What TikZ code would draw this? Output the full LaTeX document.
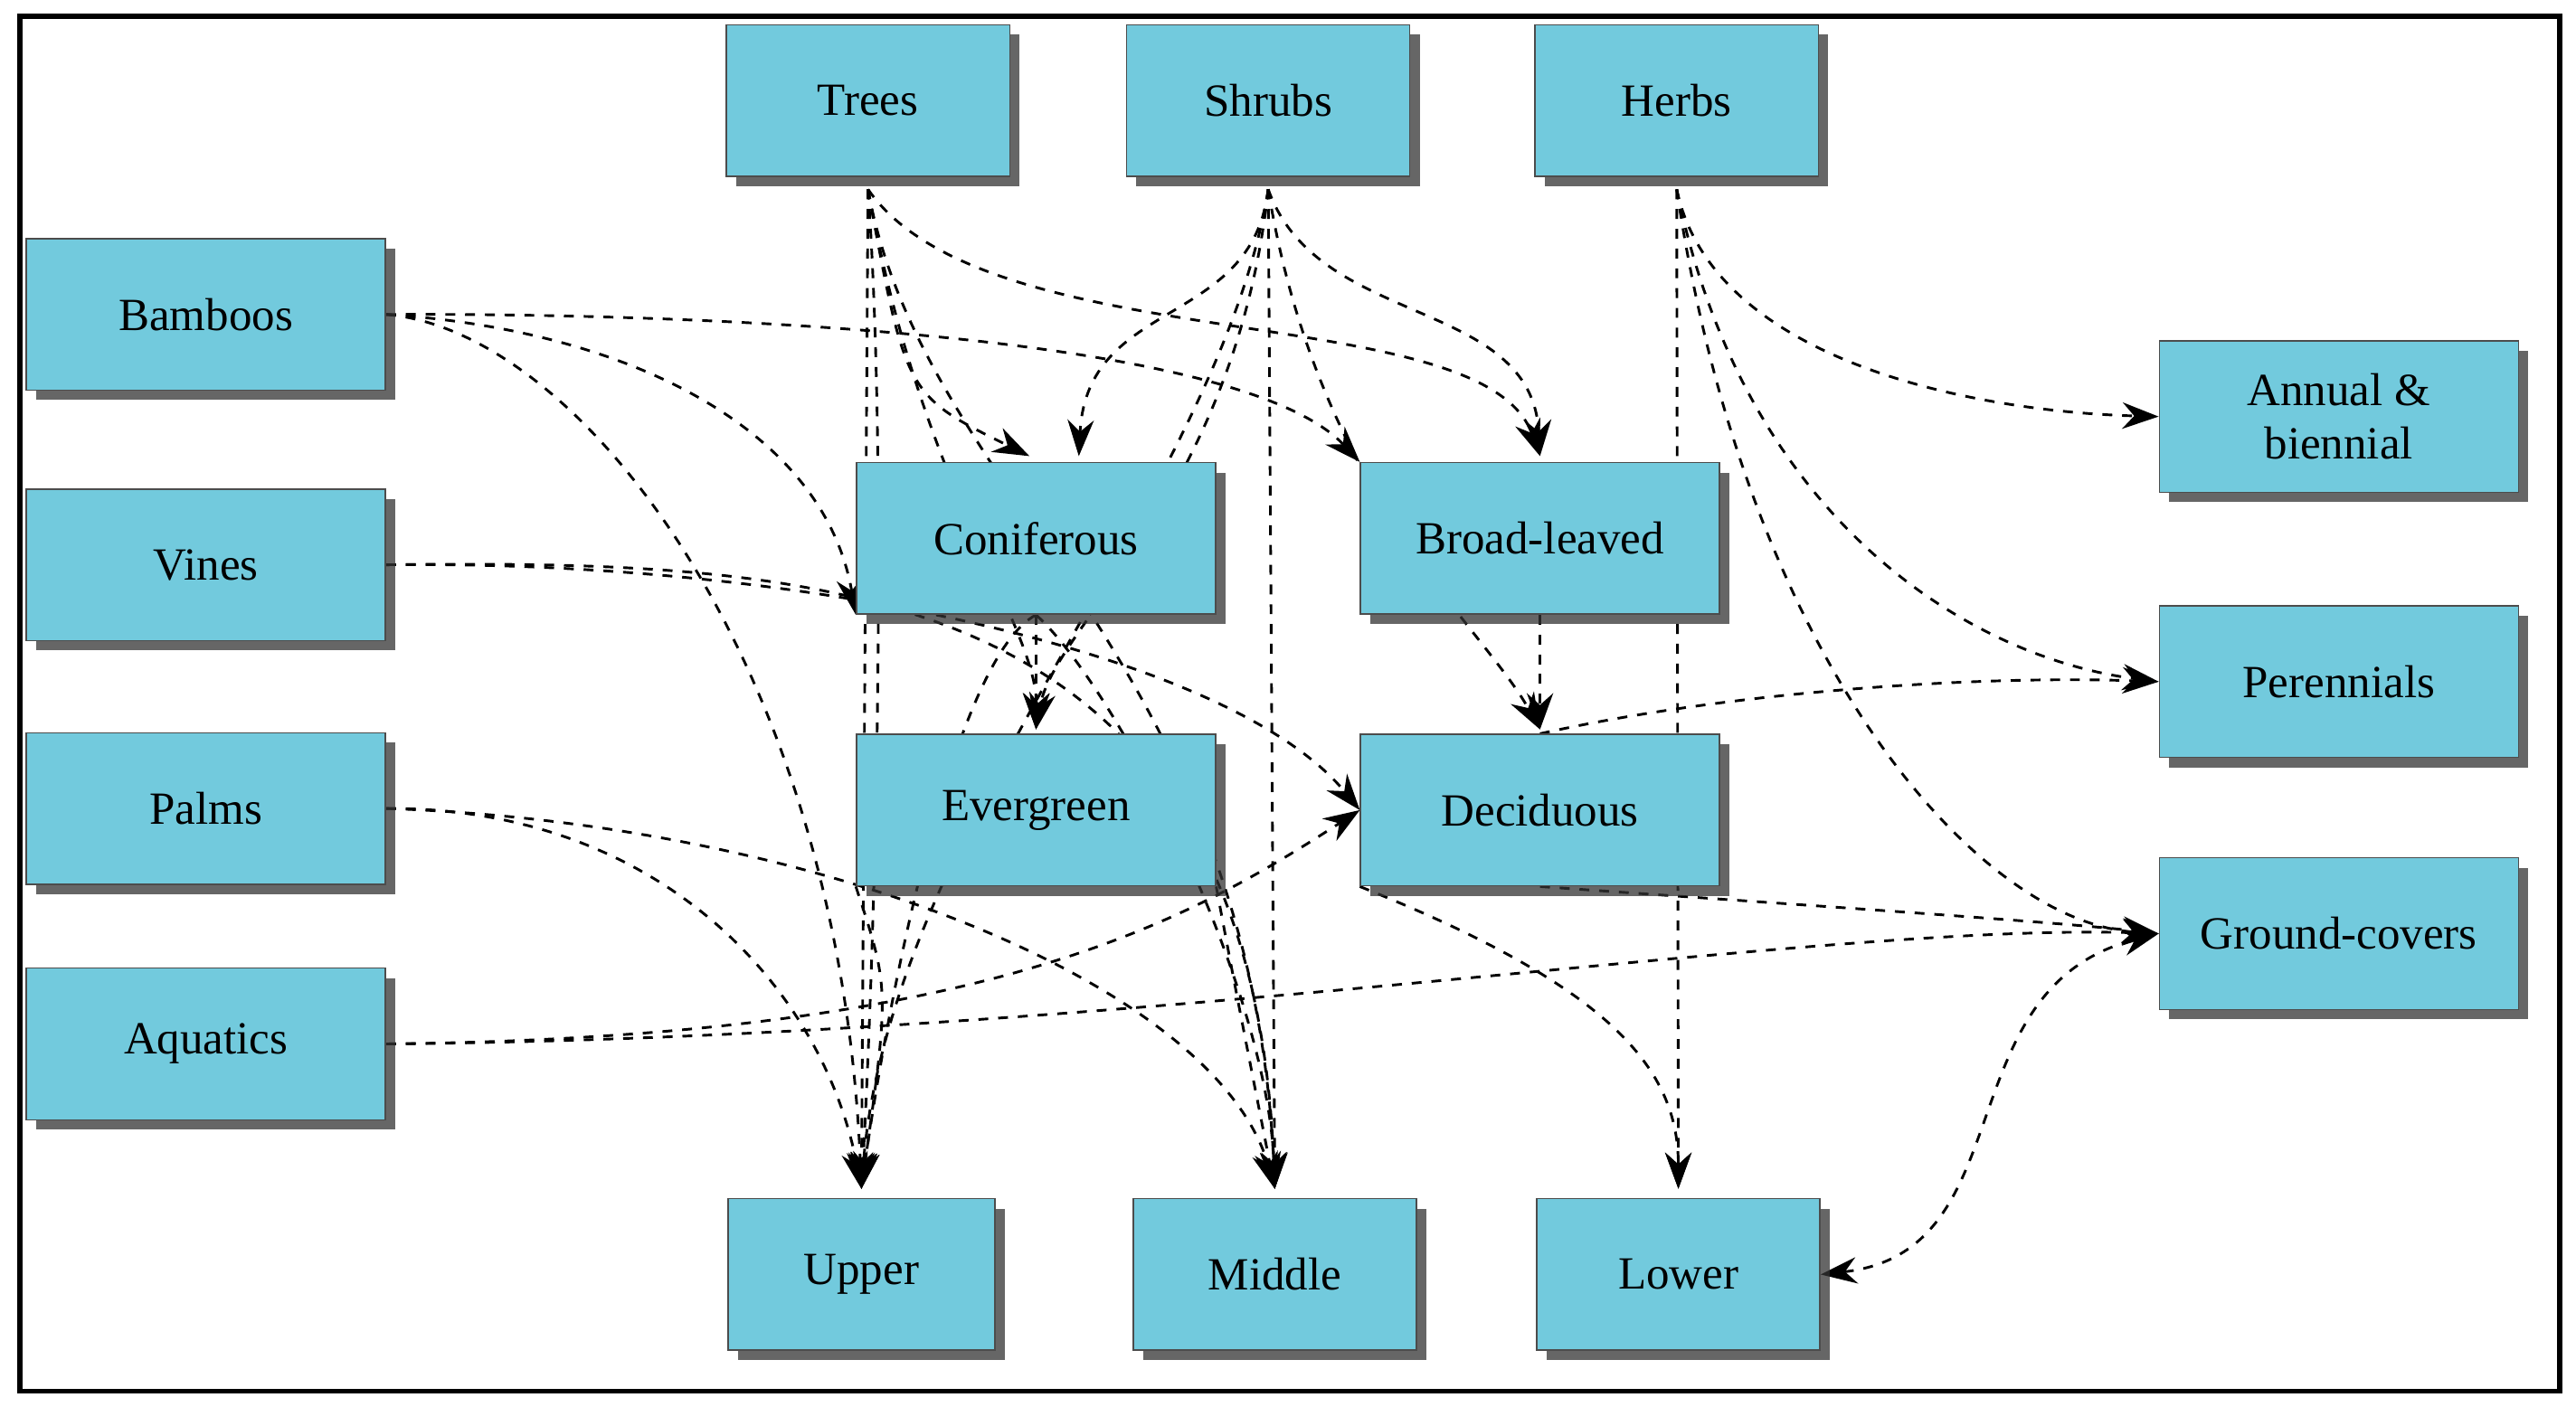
\documentclass[tikz,border=0pt]{standalone}
\usepackage{fontspec}
\setmainfont{Liberation Serif}
\usetikzlibrary{shadows,arrows.meta,backgrounds}
\definecolor{boxc}{RGB}{114,202,221}
\begin{document}
\begin{tikzpicture}[x=0.5pt,y=-0.5pt,
 box/.style={draw=black!70,fill=boxc,minimum height=46pt,font=\fontsize{14}{16}\selectfont,align=center,inner sep=1pt,drop shadow={shadow xshift=3pt,shadow yshift=-3pt,opacity=0.75,fill=black!80}},
 sm/.style={box,minimum width=86pt},
 lg/.style={box,minimum width=109pt},
 e/.style={draw,dashed,thick,-{Stealth[length=11pt,width=8pt]}}]
\useasboundingbox (0,0) rectangle (1564,854);
\draw[line width=1.5pt] (12,10) rectangle (1554,845);
\node[sm] (tr) at (527,61) {Trees};
\node[sm] (sh) at (770,61) {Shrubs};
\node[sm] (he) at (1018,61) {Herbs};
\node[lg] (ba) at (125,191) {Bamboos};
\node[lg] (vi) at (125,343) {Vines};
\node[lg] (pa) at (125,491) {Palms};
\node[lg] (aq) at (125,634) {Aquatics};
\node[lg] (co) at (629,327) {Coniferous};
\node[lg] (bl) at (935,327) {Broad-leaved};
\node[lg] (ev) at (629,492) {Evergreen};
\node[lg] (de) at (935,492) {Deciduous};
\node[lg] (an) at (1420,253) {Annual \&\\biennial};
\node[lg] (pe) at (1420,414) {Perennials};
\node[lg] (gc) at (1420,567) {Ground-covers};
\node[box,minimum width=81pt] (up) at (523,774) {Upper};
\node[sm] (mi) at (774,774) {Middle};
\node[sm] (lo) at (1019,774) {Lower};
\coordinate (trb) at (527,115);
\coordinate (shb) at (770,115);
\coordinate (heb) at (1018,115);
\coordinate (upt) at (523,722);
\coordinate (mit) at (774,722);
\coordinate (lot) at (1019,722);
\coordinate (cot) at (625,277);
\coordinate (cot2) at (655,277);
\coordinate (blt) at (935,277);
\coordinate (evt) at (629,443);
\coordinate (det) at (935,443);
\begin{scope}[on background layer]
% Trees
\draw[e] (trb) -- (upt);
\draw[e] (trb) .. controls (550,240) .. (cot);
\draw[e] (trb) .. controls (600,220) and (900,180) .. (blt);
\draw[e] (trb) .. controls (560,300) and (630,380) .. (evt);
\draw[e] (trb) .. controls (560,300) and (760,400) .. (mit);
\draw[e] (trb) .. controls (540,300) and (530,600) .. (upt);
% Shrubs
\draw[e] (shb) .. controls (760,200) and (660,180) .. (cot2);
\draw[e] (shb) .. controls (800,200) and (930,180) .. (blt);
\draw[e] (shb) -- (mit);
\draw[e] (shb) .. controls (750,300) and (640,380) .. (evt);
\draw[e] (shb) .. controls (740,300) and (540,500) .. (upt);
\draw[e] (shb) .. controls (800,300) and (900,380) .. (det);
% Herbs
\draw[e] (heb) .. controls (1040,220) and (1200,250) .. (an.west);
\draw[e] (heb) .. controls (1060,320) and (1200,400) .. (pe.west);
\draw[e] (heb) .. controls (1060,400) and (1200,560) .. (gc.west);
\draw[e] (heb) -- (lot);
% left side
\draw[e] (ba.east) .. controls (350,200) and (510,400) .. (upt);
\draw[e] (ba.east) .. controls (380,200) and (500,260) .. (co.south west);
\draw[e] (ba.east) .. controls (400,190) and (750,200) .. (bl.north west);
\draw[e] (vi.east) .. controls (500,340) and (760,350) .. (mit);
\draw[e] (vi.east) .. controls (500,340) and (750,400) .. (de.west);
\draw[e] (pa.east) .. controls (400,490) and (500,600) .. (upt);
\draw[e] (pa.east) .. controls (500,500) and (740,600) .. (mit);
\draw[e] (aq.east) .. controls (700,630) and (1100,560) .. (gc.west);
\draw[e] (aq.east) .. controls (600,630) and (720,560) .. (de.west);
% middle
\draw[e] (co.south) -- (evt);
\draw[e] (co.south) .. controls (580,400) and (540,600) .. (upt);
\draw[e] (co.south) .. controls (680,420) and (770,600) .. (mit);
\draw[e] (bl.south) -- (det);
\draw[e] (ev.south west) .. controls (540,600) .. (upt);
\draw[e] (ev.south east) .. controls (750,600) .. (mit);
\draw[e] (de.north) .. controls (1050,420) and (1200,410) .. (pe.west);
\draw[e] (de.south) .. controls (1100,550) and (1250,560) .. (gc.west);
\draw[e] (de.south west) .. controls (980,600) and (1019,650) .. (lot);
\draw[dashed,thick,{Stealth[length=11pt,width=8pt]}-{Stealth[length=11pt,width=8pt]}] (lo.east) .. controls (1230,760) and (1180,600) .. (gc.west);
\end{scope}
\end{tikzpicture}
\end{document}
